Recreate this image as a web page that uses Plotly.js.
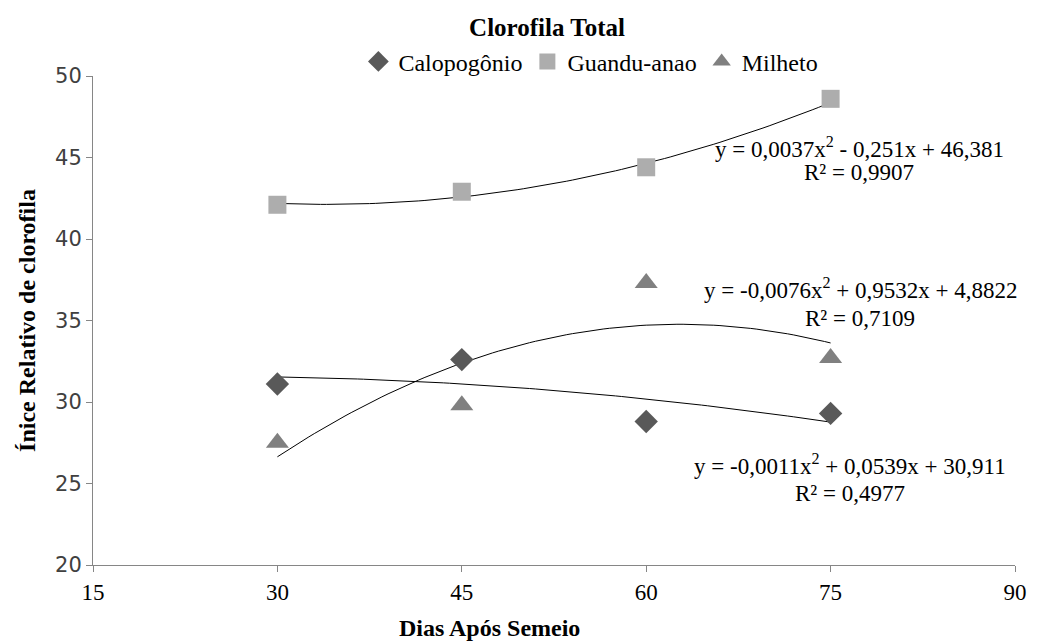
<!DOCTYPE html>
<html>
<head>
<meta charset="utf-8">
<script src="https://cdn.plot.ly/plotly-3.0.1.min.js"></script>
<style>html,body{margin:0;padding:0;background:#fff;}#chart{width:1038px;height:641px;}</style>
</head>
<body>
<div id="chart"></div>
<script>
// Data
const dias = [30, 45, 60, 75];
const calopogonio = [31.1, 32.6, 28.8, 29.3];
const guandu = [42.1, 42.9, 44.4, 48.6];
const milheto = [27.5, 29.8, 37.3, 32.7];

// Printed trendline coefficients [a, b, c] for y = a x^2 + b x + c
const coefCalopogonio = [-0.0011, 0.0539, 30.911];
const coefGuandu = [0.0037, -0.251, 46.381];
const coefMilheto = [-0.0076, 0.9532, 4.8822];

const eqCalopogonio = ["y = -0,0011x<sup>2</sup> + 0,0539x + 30,911", "R² = 0,4977"];
const eqGuandu = ["y = 0,0037x<sup>2</sup> - 0,251x + 46,381", "R² = 0,9907"];
const eqMilheto = ["y = -0,0076x<sup>2</sup> + 0,9532x + 4,8822", "R² = 0,7109"];

const xTicks = [15, 30, 45, 60, 75, 90];
const yTicks = [20, 25, 30, 35, 40, 45, 50];

function trend(coef) {
  const xs = [], ys = [];
  for (let x = dias[0]; x <= dias[dias.length - 1] + 1e-9; x += 0.5) {
    xs.push(x);
    ys.push(coef[0] * x * x + coef[1] * x + coef[2]);
  }
  return {x: xs, y: ys};
}

const serif = "'Liberation Serif', 'Times New Roman', serif";
const sans = "'DejaVu Sans', sans-serif";

function trendTrace(coef) {
  const t = trend(coef);
  return {x: t.x, y: t.y, mode: "lines", type: "scatter", showlegend: false, hoverinfo: "skip",
    line: {color: "#000000", width: 1}};
}

const traces = [
  trendTrace(coefCalopogonio),
  trendTrace(coefGuandu),
  trendTrace(coefMilheto),
  {x: dias, y: calopogonio, name: "Calopogônio", mode: "markers", type: "scatter",
    marker: {symbol: "diamond", size: 18, color: "#595959"}},
  {x: dias, y: guandu, name: "Guandu-anao", mode: "markers", type: "scatter",
    marker: {symbol: "square", size: 18, color: "#ADADAD"}},
  {x: dias, y: milheto, name: "Milheto", mode: "markers", type: "scatter",
    marker: {symbol: "triangle-up", size: 20, color: "#808080"}}
];

function eqAnn(lines, x, y1, y2) {
  const f = {family: serif, size: 23, color: "#000"};
  return [
    {text: lines[0], xref: "paper", yref: "paper", x: x, y: y1, xanchor: "center", yanchor: "middle", showarrow: false, font: f},
    {text: lines[1], xref: "paper", yref: "paper", x: x, y: y2, xanchor: "center", yanchor: "middle", showarrow: false, font: f}
  ];
}

const layout = {
  width: 1038, height: 641,
  margin: {l: 93, r: 23, t: 76, b: 76},
  paper_bgcolor: "#ffffff", plot_bgcolor: "#ffffff",
  font: {family: serif, color: "#000"},
  title: {text: "<b>Clorofila Total</b>", font: {family: serif, size: 25, color: "#000"},
    x: 0.527, xanchor: "center", y: 0.957, yanchor: "middle"},
  showlegend: true,
  legend: {orientation: "h", x: 0.54, xanchor: "center", y: 1.029, yanchor: "middle",
    font: {family: serif, size: 24, color: "#000"}, itemwidth: 30, traceorder: "normal",
    bgcolor: "rgba(0,0,0,0)"},
  xaxis: {range: [15, 90], tickvals: xTicks, ticktext: xTicks.map(String),
    showgrid: false, zeroline: false, showline: true, linecolor: "#868686", linewidth: 1,
    ticks: "outside", ticklen: 6, tickcolor: "#868686",
    tickfont: {family: serif, size: 23, color: "#000"}},
  yaxis: {range: [20, 50], tickvals: yTicks, ticktext: yTicks.map(String),
    showgrid: false, zeroline: false, showline: true, linecolor: "#868686", linewidth: 1,
    ticks: "outside", ticklen: 6, tickcolor: "#868686",
    tickfont: {family: sans, size: 21, color: "#404040"},
    title: {text: "<b>Ínice Relativo de clorofila</b>", font: {family: serif, size: 24, color: "#000"}, standoff: 12}},
  annotations: [
    {text: "<b>Dias Após Semeio</b>", xref: "paper", yref: "paper", x: 0.43, y: -0.129,
      xanchor: "center", yanchor: "middle", showarrow: false, font: {family: serif, size: 24, color: "#000"}}
  ].concat(
    eqAnn(eqGuandu, 0.831, 0.853, 0.802),
    eqAnn(eqMilheto, 0.832, 0.566, 0.505),
    eqAnn(eqCalopogonio, 0.821, 0.206, 0.147)
  )
};

Plotly.newPlot("chart", traces, layout, {displayModeBar: false, staticPlot: true});
</script>
</body>
</html>
